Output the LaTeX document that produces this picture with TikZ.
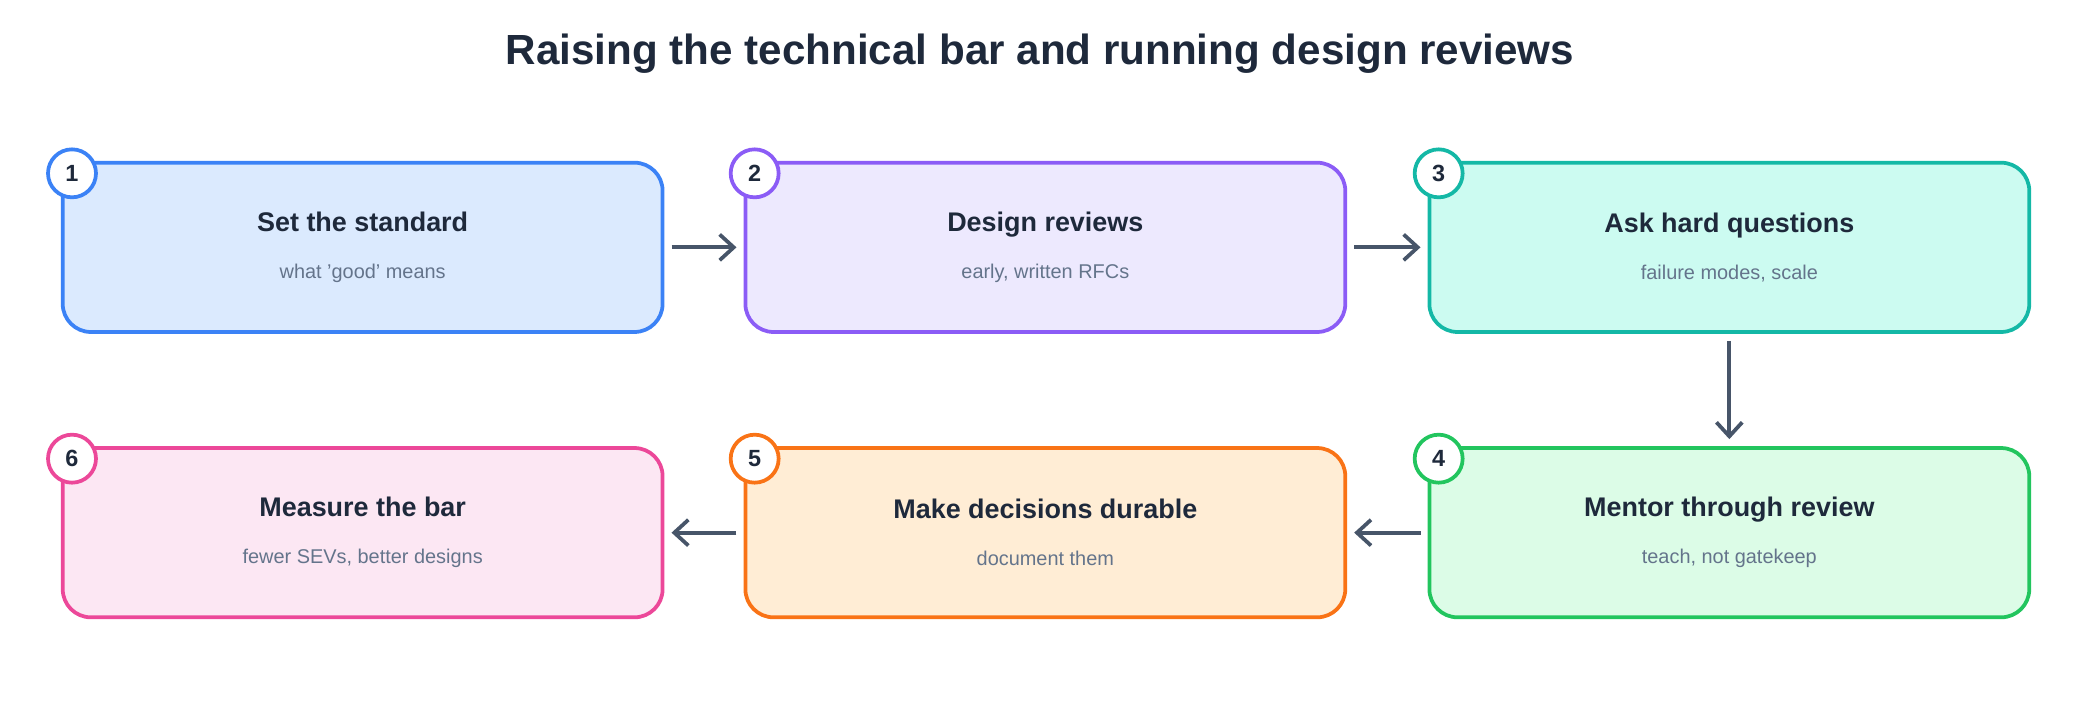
\documentclass[tikz,border=0pt]{standalone}
\usepackage{fontspec}
\setmainfont{Liberation Sans}
\usetikzlibrary{arrows.meta,positioning}
\definecolor{ink}{HTML}{1E293B}
\definecolor{subink}{HTML}{64748B}
\definecolor{arrowc}{HTML}{475569}
\definecolor{blueD}{HTML}{3B82F6}\definecolor{blueL}{HTML}{DBEAFE}
\definecolor{purpD}{HTML}{8B5CF6}\definecolor{purpL}{HTML}{EDE9FE}
\definecolor{tealD}{HTML}{14B8A6}\definecolor{tealL}{HTML}{CCFBF1}
\definecolor{grnD}{HTML}{22C55E}\definecolor{grnL}{HTML}{DCFCE7}
\definecolor{orgD}{HTML}{F97316}\definecolor{orgL}{HTML}{FFEDD5}
\definecolor{pinkD}{HTML}{EC4899}\definecolor{pinkL}{HTML}{FCE7F3}
\tikzset{
    stepbox/.style={rectangle, rounded corners=12pt, line width=1.6pt,
        minimum width=9cm, minimum height=2.54cm},
    badge/.style={circle, fill=white, line width=1.6pt, minimum size=0.72cm,
        inner sep=0pt, font=\bfseries\fontsize{10}{12}\selectfont, text=ink},
    flow/.style={-{Straight Barb[width=11pt,length=6pt,line width=1.6pt]}, draw=arrowc, line width=1.6pt}
}
\newcommand{\steptext}[2]{{\bfseries\fontsize{11.5}{14}\selectfont\color{ink}#1}\\[8pt]{\fontsize{8.5}{10}\selectfont\color{subink}#2}}
\begin{document}
\begin{tikzpicture}[x=0.02cm, y=-0.02cm]
    \useasboundingbox (0,0) rectangle (1560,528);
    \node (title) at (780,40) {\bfseries\fontsize{18}{22}\selectfont\color{ink}Raising the technical bar and running design reviews};

    \node (s1) [stepbox, draw=blueD, fill=blueL, align=center] at (272,185.5) {\steptext{Set the standard}{what 'good' means}};
    \node (s2) [stepbox, draw=purpD, fill=purpL, align=center] at (784,185.5) {\steptext{Design reviews}{early, written RFCs}};
    \node (s3) [stepbox, draw=tealD, fill=tealL, align=center] at (1297,185.5) {\steptext{Ask hard questions}{failure modes, scale}};
    \node (s4) [stepbox, draw=grnD, fill=grnL, align=center] at (1297,399.5) {\steptext{Mentor through review}{teach, not gatekeep}};
    \node (s5) [stepbox, draw=orgD, fill=orgL, align=center] at (784,399.5) {\steptext{Make decisions durable}{document them}};
    \node (s6) [stepbox, draw=pinkD, fill=pinkL, align=center] at (272,399.5) {\steptext{Measure the bar}{fewer SEVs, better designs}};

    \node (b1) [badge, draw=blueD] at (54,130) {1};
    \node (b2) [badge, draw=purpD] at (566,130) {2};
    \node (b3) [badge, draw=tealD] at (1079,130) {3};
    \node (b4) [badge, draw=grnD] at (1079,344) {4};
    \node (b5) [badge, draw=orgD] at (566,344) {5};
    \node (b6) [badge, draw=pinkD] at (54,344) {6};

    \draw[flow] ([xshift=3pt]s1.east) -- ([xshift=-3pt]s2.west);
    \draw[flow] ([xshift=3pt]s2.east) -- ([xshift=-3pt]s3.west);
    \draw[flow] ([yshift=-3pt]s3.south) -- ([yshift=3pt]s4.north);
    \draw[flow] ([xshift=-3pt]s4.west) -- ([xshift=3pt]s5.east);
    \draw[flow] ([xshift=-3pt]s5.west) -- ([xshift=3pt]s6.east);
\end{tikzpicture}
\end{document}
